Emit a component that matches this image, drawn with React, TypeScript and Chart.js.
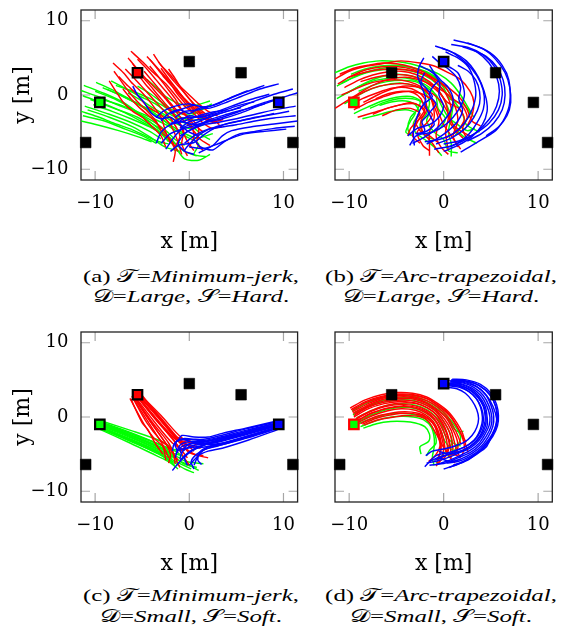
import React, { useEffect, useRef } from "react";
import { Chart, registerables } from "chart.js";
Chart.register(...registerables);

const X_TICKS = [-10, 0, 10];
const Y_TICKS = [-10, 0, 10];
const X_MIN = -11.5;
const X_MAX = 11.5;
const Y_MIN = -11.45;
const Y_MAX = 11.45;

// landmark squares
const LANDMARK_X = [-11, -9.5, -5.5, 0, 5.5, 9.5, 11];
const LANDMARK_Y = [-6.4, -1, 3, 4.5, 3, -1, -6.4];

// ---------- (a) minimum-jerk, large, hard ----------
const A_GREEN: number[][] = [
  [-11.3, -0.1, -9, -1.2, -6.5, -2.6, -4.5, -4.0, -3, -5.2, -2.2, -6.3],
  [-11.1, -1.5, -8.5, -2.6, -6, -3.8, -4.2, -4.9, -3, -5.9],
  [-11.3, -2.8, -9, -3.5, -6.8, -4.6, -4.8, -5.6, -3.5, -6.5],
  [-9.9, 1.7, -8, 0.6, -6, -0.8, -4, -2.2, -2.5, -3.6, -1.5, -5.0],
  [-11.2, 1.3, -9, 0.2, -7, -1.0, -5, -2.8, -3.5, -4.3, -2, -5.8, -1.2, -7.0],
  [-8.8, 0.8, -7, -0.2, -5, -1.5, -3, -2.6, -1.5, -3.8, 0, -4.5, 1.5, -4.0],
  [-10.5, -0.6, -8, -1.8, -5.5, -3.0, -3.5, -4.6, -2, -6.0, -0.5, -7.6, 0.8, -8.2],
  [-4.5, 2.1, -3.5, 1.0, -2.5, -0.2, -1, -1.2, 0.5, -1.4, 2.2, -0.8],
  [-7.8, 1.3, -6, 0.5, -4, -0.6, -2.5, -1.7, -1, -3.0, 0.5, -3.4, 1.8, -3.0],
  [-10.8, -2.0, -8.5, -3.0, -6, -4.3, -4, -5.8, -2.6, -7.0, -1, -7.6],
  [-9.5, -0.5, -7, -1.5, -4.5, -2.8, -2.5, -4.0, -0.5, -5.5, 1, -6.6, 0.5, -8.0, 1.8, -8.3],
  [-6.5, 0.3, -5, -0.8, -3.5, -2.0, -1.8, -3.2, 0, -4.0, 1.5, -5.5, 2.2, -6.0],
  [-10, 0.5, -8, -0.5, -6.2, -1.8, -4.5, -3.4, -3, -4.6],
  [-11.5, -3.5, -9.5, -4.1, -7.5, -4.8, -5.5, -5.6, -4, -6.3],
  [-11.5, 0.6, -9.5, -0.3, -7.5, -1.4, -5.5, -2.4, -3.8, -3.6, -2.5, -4.8, -1.5, -6.0, -0.5, -6.8],
  [-11.5, -2.2, -9.8, -2.9, -8, -3.8, -6.2, -4.6, -4.5, -5.6, -3.2, -6.3, -2.2, -6.6],
  [-8.3, 1.9, -6.8, 0.9, -5.2, -0.2, -3.6, -1.2, -2.3, -2.4, -1, -3.2, 0.5, -2.6, 1.5, -1.6],
  [-5.5, 1.2, -4.2, 0.2, -3, -0.9, -1.8, -2.0, -0.5, -2.6, 1, -2.2, 2.4, -1.2],
  [-10.2, -1.3, -8.2, -2.2, -6.2, -3.2, -4.2, -4.3, -2.8, -5.4, -1.5, -7.0, -0.5, -8.6, 1, -8.8, 2.2, -8.0],
  [-9.2, 1.0, -7.2, -0.1, -5.4, -1.3, -3.8, -2.6, -2.2, -3.9, -0.8, -5.0, 0.8, -5.8, 2.5, -5.2],
];
const A_RED: number[][] = [
  [-6.2, 5.9, -5, 4.5, -3.8, 3.0, -2.5, 1.5, -1.5, 0, -0.5, -1.5, 0.5, -2.5],
  [-8.1, 4.3, -7, 3.0, -6, 1.5, -5, 0.3, -4, -1.2, -3, -3.0, -2.5, -5.0, -2, -6.5],
  [-4.5, 5.2, -3.5, 3.8, -2.5, 2.4, -1.5, 1.0, -0.5, -0.5, 0.5, -1.8, 1.5, -2.5],
  [-3.3, 4.5, -2.5, 3.2, -1.6, 1.8, -0.6, 0.4, 0.3, -1.0, 1.3, -2.6, 2.5, -3.5],
  [-2.2, 3.5, -1.5, 2.2, -0.8, 0.8, 0, -0.5, 1, -1.8, 2.2, -3.0, 3.2, -4.0],
  [-4.2, 3.9, -3.3, 2.5, -2.4, 1.0, -1.5, -0.5, -0.8, -2.0, 0, -3.5, 0.5, -5.5, 0, -7.0],
  [-8.5, 1.9, -7.8, 0.5, -7, -1.0, -6, -2.2, -5, -3.0, -4, -4.2, -3, -5.5, -2.5, -7.0],
  [-7.05, 0.8, -6.2, -0.5, -5.3, -1.7, -4.3, -2.8, -3.3, -4.0, -2.3, -5.5, -1.5, -7.5, -1.7, -9.0],
  [-5.3, 2.5, -4.5, 1.2, -3.6, 0, -2.8, -1.2, -1.8, -2.5, -1, -4.0, -0.3, -6.0, 0.5, -7.5],
  [-6.8, 3.5, -5.8, 2.2, -4.8, 0.8, -3.8, -0.6, -2.8, -2.0, -1.8, -3.5, -1, -5.5, -1.5, -7.0],
  [-5.5, 4.8, -4.5, 3.5, -3.5, 2.0, -2.5, 0.5, -1.5, -1.0, -0.5, -2.5, 0.5, -4.0, 1.5, -5.0],
  [-3.8, 5.5, -3, 4.0, -2, 2.7, -1, 1.2, 0, 0, 1, -1.2, 2, -2.2, 3, -2.8],
  [-7.5, 2.5, -6.5, 1.2, -5.5, 0, -4.5, -1.5, -3.2, -2.5, -2, -4.0, -1.3, -6.0, -0.8, -8.0],
  [-2.8, 2.6, -2, 1.5, -1.3, 0.2, -0.5, -1.0, 0.5, -2.5, 1.5, -3.8, 2.5, -4.5, 3.5, -4.2],
  [-4.8, 3.2, -4, 2.0, -3.2, 0.8, -2.2, -0.8, -1.2, -2.2, 0, -3.0, 1, -4.5, 0.8, -6.5, 1.5, -7.5],
  [-6.5, 5.0, -5.6, 3.6, -4.6, 2.2, -3.6, 0.9, -2.6, -0.4, -1.7, -1.8, -0.8, -3.2, 0.2, -4.4, 1.2, -6.0, 2.2, -6.8],
  [-4.2, 4.8, -3.3, 3.4, -2.4, 2.0, -1.4, 0.6, -0.4, -0.8, 0.6, -2.2, 1.7, -3.3, 2.8, -3.8],
  [-8.0, 3.2, -7.2, 1.8, -6.4, 0.4, -5.5, -0.9, -4.6, -2.0, -3.6, -3.4, -2.8, -5.2, -2.0, -6.0, -1.2, -7.6],
  [-3.0, 3.6, -2.2, 2.2, -1.4, 0.9, -0.6, -0.4, 0.4, -1.6, 1.4, -2.8, 2.6, -3.6, 3.6, -3.3],
  [-6.0, 4.2, -5.2, 2.8, -4.3, 1.5, -3.4, 0.1, -2.4, -1.4, -1.4, -3.0, -0.6, -4.8, -0.8, -6.6, -0.2, -8.2],
];
const A_BLUE: number[][] = [
  [7.97, 1.3, 6, 0.4, 4, -0.6, 2.5, -1.4, 1, -2.0, -0.5, -2.2, -1.5, -3.0],
  [11, 0.8, 9, 0.1, 7, -0.8, 5, -1.8, 3, -2.6, 1.5, -3.2, 0, -3.6, -1, -4.5],
  [8.5, 0.1, 6.5, -0.6, 4.5, -1.5, 2.8, -2.3, 1.2, -3.0, 0, -2.8, -1, -3.5],
  [11.3, -1.5, 9, -2.0, 7, -2.6, 5, -3.2, 3, -3.7, 1.5, -4.0, 0, -4.8, -1, -5.5],
  [11.3, -2.8, 9, -3.1, 7, -3.5, 5, -4.0, 3.5, -4.3, 2, -4.6, 0.5, -5.5, -0.5, -6.5],
  [10.3, -4.6, 8, -4.9, 6, -5.2, 4.5, -5.8, 3, -6.6, 1.5, -7.2, 0, -7.0],
  [6.9, -0.9, 5, -1.5, 3.5, -2.2, 2, -2.8, 0.5, -3.0, -1, -3.2, -2, -4.0],
  [5.5, -1.7, 4, -2.2, 2.5, -2.8, 1, -3.6, -0.5, -4.3, -1.5, -5.5, -2.5, -7.3],
  [11.5, -3.5, 9, -3.9, 6.5, -4.3, 4.5, -4.8, 3.5, -5.5, 2.5, -6.8, 1, -7.8],
  [9.5, 1.5, 7.5, 0.8, 5.5, -0.2, 3.5, -1.2, 2, -1.8, 0.5, -1.4, -1, -2.0, -2, -2.5],
  [10, -0.3, 8, -1.0, 6, -1.9, 4, -2.8, 2.5, -3.4, 1, -4.0, -0.5, -4.5, -2, -5.2, -3, -6.5],
  [-6.0, 1.2, -5.5, 0, -4.8, -1.0, -4, -2.5, -3, -3.2, -2, -3.0, -1, -4.0, 0, -5.0, 1, -5.5],
  [4, -2.0, 2.5, -2.3, 1, -2.8, -0.5, -3.5, -2, -4.0, -3, -5.0, -3.5, -6.5],
  [9, -2.5, 7, -3.0, 5, -3.6, 3, -4.2, 1.5, -5.0, 0.5, -6.0, -0.5, -7.5, 0.5, -8.0],
  [2, -1.5, 1, -1.8, 0, -2.5, -1, -2.0, -2.2, -2.5, -3, -3.5],
  [11.5, 0.3, 9.5, -0.5, 7.5, -1.4, 5.5, -2.4, 3.5, -3.2, 2.0, -3.6, 0.5, -4.0, -0.8, -3.6, -2.0, -3.8],
  [8, -1.2, 6, -1.9, 4, -2.6, 2.2, -3.3, 0.8, -4.2, -0.5, -5.2, -1.2, -6.6, -0.5, -7.6],
  [11.2, -4.2, 9, -4.5, 7, -4.9, 5.2, -5.3, 3.8, -6.2, 2.5, -7.4, 1.2, -7.0, 0.5, -6.0],
  [6.2, 0.6, 4.5, -0.3, 3, -1.2, 1.5, -1.6, 0, -1.2, -1.5, -1.5, -2.8, -2.2, -3.5, -3.0],
  [10.6, -2.2, 8.5, -2.7, 6.5, -3.2, 4.5, -3.7, 2.8, -4.4, 1.5, -5.4, 0.5, -6.4, -1.2, -6.8, -2.0, -7.6],
];

// ---------- (b) arc-trapezoidal, large, hard ----------
const B_GREEN: number[][] = [
  [-11.3, -0.5, -9.5, 0.8, -8, 1.8, -6.5, 2.5, -5, 2.8, -3.5, 2.6, -2, 2.0, -0.8, 1.0, 0, -0.5, 0.6, -2.2, 1, -4.0, 2, -5.5, 3.5, -6.5],
  [-11.5, 3.0, -10, 3.8, -8.5, 4.3, -6.8, 4.6, -5, 4.5, -3.5, 4.2, -2, 3.6, -0.5, 2.8, 0.8, 1.6, 1.8, 0, 2.5, -1.5, 3.2, -3.0],
  [-9.5, -2.5, -8, -1.6, -6.5, -0.8, -5, -0.3, -3.5, -0.2, -2.5, -0.8, -2.8, -2.0, -3.5, -3.0, -3.8, -4.5, -3.5, -5.5],
  [-10.5, -1.2, -9, 0, -7.5, 0.9, -6, 1.4, -4.5, 1.6, -3, 1.2, -2, 0.4, -1.5, -1.0, -1.8, -2.5, -2.5, -4.0, -2, -5.5, -1, -6.0],
  [-8.6, -3.2, -7, -2.7, -5.5, -2.2, -4, -2.0, -3, -2.4, -3.5, -3.5, -4, -5.0, -3.2, -5.5],
  [-10.8, 1.6, -9.2, 2.6, -7.6, 3.3, -6, 3.7, -4.5, 3.9, -3, 3.6, -1.6, 3.0, -0.5, 2.0, 0.5, 0.5, 1.0, -1.0, 0.8, -3.0, 0.5, -5.0, 0.8, -6.5, 0.8, -8.3],
  [-9, 0.5, -7.5, 1.3, -6, 1.8, -4.5, 2.0, -3, 1.8, -1.8, 1.0, -0.8, 0, -0.2, -1.5, 0.5, -3.0, 1.5, -4.0, 2.5, -4.8, 3.3, -4.5],
  [-7.8, -1.8, -6.3, -1.0, -4.8, -0.5, -3.3, -0.5, -2.2, -1.0, -1.5, -2.2, -1.8, -3.5, -1, -5.0, 0, -6.0, 0.5, -7.5, 1.5, -7.8],
  [-11.3, 1.2, -9.8, 2.2, -8.2, 3.0, -6.5, 3.4, -4.8, 3.5, -3.3, 3.2, -2, 2.6, -0.8, 1.6, 0.2, 0.3, 1.2, -1.0, 2.0, -2.5, 2.4, -4.0, 3.8, -5.0],
  [-10.3, 0.2, -8.7, 1.3, -7.1, 2.0, -5.5, 2.3, -4, 2.3, -2.6, 1.8, -1.5, 1.0, -0.8, -0.2, -0.6, -1.8, 0.2, -3.2, -0.5, -4.6, -1.8, -5.2],
  [-9.8, 2.8, -8.3, 3.5, -6.7, 3.9, -5, 4.0, -3.4, 3.7, -2, 3.1, -0.8, 2.2, 0, 1.0, 0.6, -0.5, 2.0, -1.2, 2.8, -2.5, 2.0, -4.0, 1.2, -5.5],
  [-6.8, -1.4, -5.4, -0.9, -4, -0.8, -3, -1.3, -2.6, -2.4, -3.2, -3.8, -3.0, -5.0, -2.0, -6.0, -1.0, -7.0, -0.2, -8.2],
];
const B_RED: number[][] = [
  [-11.6, 2.1, -10, 3.2, -8.1, 3.9, -6, 4.3, -4.5, 4.6, -2.5, 4.3, -1, 3.9, 0.5, 3.0, 1.76, 2.1, 2.8, 0.5, 3.2, -1.0, 3, -2.8, 2.5, -4.15],
  [-11.5, -1.8, -10, -0.6, -8.5, 0.6, -7, 1.6, -5.5, 2.2, -4, 2.4, -2.5, 2.0, -1, 1.2, 0.5, 0, 1.2, -1.5, 1.5, -3.5, 1, -5.5, 1.5, -7],
  [-10.5, 1.0, -9, 2.0, -7.5, 2.7, -6, 3.1, -4.5, 3.2, -3, 2.8, -1.5, 1.8, -0.5, 0.5, 0.2, -1.0, 0.5, -3.0, 0.2, -5.0, 0.5, -7.5],
  [-9.1, -3.0, -7.5, -2.4, -6, -1.8, -4.5, -1.3, -3.5, -1.0, -2.5, -1.5, -2, -2.5, -2.8, -3.5, -3.5, -4.5, -3.8, -5.5],
  [-10.8, 0.0, -9, 1.0, -7.5, 1.7, -6, 2.0, -4.5, 2.0, -3, 1.5, -1.8, 0.5, -1.2, -1.0, -1, -3.0, -1.5, -5.0, -1.5, -7.0, -1.5, -8.2],
  [-9.5, -2.0, -8, -1.0, -6.5, -0.3, -5, 0.3, -3.5, 0.5, -2, 0, -1, -1.0, -0.5, -2.5, 0, -4.0, 0.8, -5.5, 1.8, -7.3],
  [-11.0, 2.8, -9.5, 3.6, -8, 4.0, -6.5, 4.3, -5, 4.2, -3.5, 3.8, -2, 3.0, -0.8, 2.0, 0.5, 1.0, 1.8, -0.5, 2.5, -2.0, 3.0, -3.5, 3.9, -4.15],
  [-8.5, -1.0, -7, 0, -5.5, 0.8, -4, 1.2, -2.5, 1.0, -1.2, 0.2, -0.2, -1.0, 0.5, -2.5, 1, -4.0, 2, -5.0, 2.8, -5.5],
  [-7.5, -2.6, -6, -1.8, -4.5, -1.3, -3, -1.2, -2, -2.0, -2.5, -3.0, -3, -4.2, -3.3, -5.5, -2.5, -6.5],
  [-10.2, 2.3, -8.5, 3.0, -7, 3.4, -5.5, 3.5, -4, 3.4, -2.5, 3.0, -1, 2.2, 0.2, 1.0, 1, -0.5, 2.0, -1.5, 2.5, -3.0, 2, -4.5, 2.5, -6],
  [-9.8, -0.5, -8.3, 0.5, -6.8, 1.2, -5.2, 1.5, -3.8, 1.5, -2.5, 1.0, -1.5, 0, -1.0, -1.5, -0.5, -3.5, -0.8, -5.5, -0.3, -7.0, 0.5, -8.0],
  [-6.5, -2.8, -5, -2.0, -3.5, -1.8, -2.5, -2.5, -3, -3.5, -2.5, -4.8, -1.5, -5.5, -0.5, -6.5],
  [-11.2, 1.5, -9.7, 2.6, -8.2, 3.4, -6.5, 3.8, -4.8, 3.8, -3.2, 3.4, -1.8, 2.6, -0.6, 1.5, 0.3, 0, 0.8, -1.8, 0.6, -3.5, 1.4, -5.0, 2.2, -6.0],
  [-10, -1.5, -8.6, -0.5, -7, 0.3, -5.5, 0.9, -4, 1.0, -2.8, 0.5, -2, -0.5, -1.8, -2.0, -2.4, -3.5, -2.2, -5.0, -1.2, -6.5, -0.5, -7.8],
  [-8.8, 1.8, -7.2, 2.4, -5.6, 2.7, -4, 2.7, -2.6, 2.2, -1.4, 1.3, -0.4, 0.2, 0.4, -1.0, 1.6, -1.8, 2.2, -3.2, 1.5, -4.8, 0.2, -5.8],
  [-7.2, -0.5, -5.8, 0.2, -4.4, 0.5, -3.2, 0.3, -2.4, -0.5, -2.0, -1.7, -1.2, -2.6, -1.8, -3.8, -2.8, -5.0, -2.2, -6.8, -1.5, -7.5],
];
const B_BLUE: number[][] = [
  [1.05, 7.4, 3, 6.8, 4.9, 5.7, 6.2, 4.0, 6.9, 2.0, 7.0, -1.0, 6.5, -3.0, 5.5, -4.8, 3.5, -6.4, 1.8, -7.7],
  [-0.9, 6.6, 0.5, 6.0, 1.76, 5.0, 3, 3.5, 3.9, 1.7, 4.3, -0.2, 4.2, -1.9, 3.5, -3.8, 2.5, -5.5, 1, -6.8, -1, -7.3],
  [-2.1, 5.0, -2.6, 3.8, -2.75, 2.55, -2.3, 1.0, -1.9, -0.6, -2.5, -2.0, -2.9, -3.3, -3.2, -5.0, -3.1, -6.8],
  [2.0, 6.5, 3.5, 5.8, 4.8, 4.3, 5.6, 2.5, 5.9, 0.5, 5.6, -1.5, 4.8, -3.3, 3.5, -5.0, 2, -6.2, 0.5, -7.0],
  [0.2, 5.8, 1.5, 5.0, 2.6, 3.8, 3.2, 2.0, 3.4, 0, 3, -2.0, 2.2, -3.8, 1, -5.2, -0.5, -6.0, -2, -6.3],
  [-1.5, 4.0, -1.0, 3.0, -0.3, 2.0, 0.5, 1.0, 1.0, -0.5, 0.8, -2.0, 0, -3.5, -1.0, -4.8, -2.2, -5.8, -3.3, -6.5],
  [0.6, 3.8, 1.5, 3.0, 2.0, 1.5, 2.2, 0, 1.8, -1.5, 1.0, -3.0, 0, -4.2, -1.2, -5.0, -2.5, -5.3],
  [3.2, 6.0, 4.5, 5.2, 5.6, 3.8, 6.3, 2.0, 6.5, 0, 6.2, -2.0, 5.3, -3.8, 4, -5.2, 2.5, -6.2],
  [-0.5, 2.0, -1.2, 1.0, -1.5, 0, -0.8, -1.2, -1.5, -2.5, -1.0, -4.0, -2, -5.0, -3, -5.2],
  [1.5, 4.0, 2.6, 3.2, 3.4, 2.0, 3.8, 0.5, 3.8, -1.2, 3.2, -3.0, 2.2, -4.6, 0.8, -5.8, -0.8, -6.6],
  [-2.6, 4.0, -1.8, 3.5, -1.0, 2.8, -0.4, 1.5, -0.5, 0, 0, -1.5, -0.5, -3.0, -1.5, -4.0, -2.8, -4.5, -3.8, -5.5],
  [2.5, 7.0, 4.2, 6.2, 5.5, 4.8, 6.5, 3.0, 7.0, 1.0, 7.1, -1.0, 6.7, -2.8, 5.8, -4.3, 4.5, -5.5],
  [-0.2, 6.3, 1.2, 5.6, 2.4, 4.6, 3.3, 3.2, 4.0, 1.5, 4.5, -0.5, 4.6, -2.2, 4.1, -4.0, 3, -5.6, 1.5, -6.8, 0, -7.6],
  [0.8, 6.8, 2.6, 6.4, 4.2, 5.4, 5.4, 3.8, 6.0, 2.0, 6.2, 0, 5.8, -2.0, 4.8, -3.8, 3.3, -5.2, 1.6, -6.2, 0, -6.6],
  [-1.2, 5.2, -0.5, 4.4, 0.4, 3.6, 1.3, 2.5, 1.8, 1.0, 1.6, -0.5, 2.0, -2.0, 1.5, -3.5, 0.5, -4.8, -0.6, -5.8, -1.8, -6.6],
  [-2.0, 3.0, -2.4, 1.8, -1.8, 0.8, -1.2, -0.2, -2.0, -1.2, -1.6, -2.5, -2.3, -3.6, -2.0, -4.8, -3.0, -5.6, -3.6, -6.8],
];

// ---------- (c) minimum-jerk, small, soft ----------
const C_GREEN: number[][] = [
  [-9.5, -0.6, -6, -2.2, -3, -3.8, -2.2, -4.5],
  [-9.6, -0.9, -6, -2.6, -3, -4.2, -2, -5.0],
  [-9.4, -1.2, -6, -2.9, -3, -4.6, -1.8, -5.6],
  [-9.7, -1.4, -6.2, -3.3, -3.2, -5.0, -1.8, -6.2],
  [-9.3, -0.8, -5.8, -2.4, -2.8, -3.9, -1.5, -4.6, -0.5, -5.5],
  [-9.5, -1.0, -6, -2.8, -3, -4.5, -1.2, -5.8, 0, -6.5, 1, -7.2],
  [-9.6, -1.6, -6.3, -3.5, -3.5, -5.2, -2.2, -6.0, -1.2, -7.0],
  [-9.4, -0.5, -6, -1.9, -3.5, -3.0, -2.5, -3.6, -1.8, -4.2],
  [-9.5, -1.3, -6.1, -3.1, -3.3, -4.8, -2.0, -5.8, -0.5, -7.0, 0.5, -7.5],
  [-9.6, -0.7, -6.1, -2.3, -3.1, -3.7, -2.0, -4.3, -1.0, -4.5],
  [-9.5, -1.1, -5.9, -2.7, -3.0, -4.3, -1.5, -5.2, -0.3, -6.0, 1.5, -6.3],
  [-9.3, -1.5, -6.0, -3.2, -3.0, -4.9, -1.6, -5.9, 0.2, -7.0],
  [-9.7, -1.2, -6.4, -2.9, -3.6, -4.4, -2.7, -5.0],
  [-9.5, -0.8, -6.0, -2.5, -3.1, -4.0, -1.9, -4.8, -0.8, -5.2],
  [-9.6, -1.5, -6.2, -3.2, -3.4, -4.9, -2.3, -5.6, -1.5, -6.6],
  [-9.4, -1.0, -5.9, -2.6, -2.9, -4.2, -1.7, -5.3, -0.6, -6.3, 0.8, -6.8],
];
const C_RED: number[][] = [
  [-5.8, 2.8, -3.8, -0.5, -1.8, -3.5, -0.5, -4.5],
  [-5.5, 3.2, -3.3, 0, -1.2, -3.0, 0.3, -4.0],
  [-5.2, 3.0, -3.0, 0.2, -0.8, -2.8, 0.8, -3.6],
  [-6.0, 2.6, -4.3, -0.8, -2.8, -3.8, -2.2, -5.5],
  [-6.3, 2.5, -4.8, -1.0, -3.8, -2.8, -2.8, -4.0, -2.5, -5.8],
  [-5.6, 3.0, -3.6, -0.3, -1.6, -3.2, -0.8, -5.0, 0, -6.5],
  [-5.3, 3.1, -3.1, 0, -1.0, -3.2, 0, -4.8, 1.5, -5.2],
  [-5.9, 2.9, -4.0, -0.6, -2.2, -3.5, -1.5, -5.5, -1.0, -6.8],
  [-5.4, 2.7, -3.5, -0.2, -1.5, -3.0, -0.2, -3.8, 1.2, -4.2],
  [-6.1, 2.8, -4.5, -0.8, -3.0, -3.2, -1.8, -4.5, -1.5, -6.3],
  [-5.7, 3.3, -3.4, 0.2, -1.3, -2.7, 0, -3.2, 0.8, -3.8],
  [-5.0, 2.9, -3.0, -0.3, -1.0, -3.5, 0.5, -5.0, 2, -5.5],
  [-6.2, 2.4, -5, -0.8, -4.4, -1.7, -3.6, -3.6, -2.8, -5.0],
  [-5.5, 2.9, -3.6, -0.2, -1.7, -3.1, -1.0, -4.2, -0.2, -5.5],
  [-5.8, 3.1, -3.7, -0.1, -1.6, -2.8, -0.4, -3.6, 0.5, -4.6],
  [-5.9, 2.6, -4.1, -0.7, -2.4, -3.7, -1.8, -4.8, -1.2, -5.8],
  [-5.3, 2.8, -3.3, -0.1, -1.3, -2.9, 0.2, -3.5, 1.8, -3.6],
  [-6.0, 3.0, -4.2, -0.5, -2.6, -3.4, -2.0, -5.0, -2.2, -6.2],
];
const C_BLUE: number[][] = [
  [9.5, -0.6, 6, -1.6, 3, -2.6, 1.5, -3.0, 0, -3.0, -1.3, -3.2, -1.5, -4.0],
  [9.6, -0.9, 6, -2.0, 3, -3.0, 1.5, -3.4, 0, -3.6, -1, -4.2, -0.8, -5.0],
  [9.4, -1.2, 6, -2.4, 3, -3.4, 1.5, -3.8, 0.3, -4.5, -0.5, -5.5, -0.2, -6.5],
  [9.7, -1.4, 6.2, -2.8, 3.2, -3.8, 1.8, -4.3, 0.8, -5.0, 0.2, -6.0, 0.5, -7.0],
  [9.3, -0.8, 6, -1.8, 3, -2.8, 1.2, -3.2, -0.5, -2.9, -1.5, -3.5, -1.2, -4.8],
  [9.5, -1.0, 6, -2.2, 3, -3.2, 1.5, -3.8, 0, -4.8, -1, -6.0, -1.8, -7.2],
  [9.6, -1.6, 6.3, -3.1, 3.5, -4.2, 2.0, -4.6, 1.0, -5.2, 0.5, -6.5],
  [9.4, -0.5, 6, -1.5, 3.5, -2.2, 2, -2.7, 0.5, -2.7, -0.8, -2.5, -1.2, -3.3],
  [9.5, -1.3, 6.1, -2.6, 3.3, -3.6, 1.8, -4.0, 0.5, -4.3, -0.3, -5.0, -1, -5.8],
  [9.6, -0.7, 6.1, -1.9, 3.1, -2.9, 1.5, -3.3, 0, -3.3, -1, -3.8, -1.4, -5.0],
  [9.5, -1.1, 5.9, -2.3, 3.0, -3.3, 1.2, -3.9, -0.2, -4.2, -1.2, -4.5, -1.5, -5.5],
  [9.3, -1.5, 6.0, -2.8, 3.0, -3.9, 1.6, -4.4, 0.5, -5.8, 0, -6.5],
  [9.7, -1.2, 6.4, -2.5, 3.6, -3.5, 2.0, -3.7, 0.8, -3.5, -0.2, -3.8, -0.8, -4.5],
  [9.5, -0.9, 6.0, -2.1, 3.1, -3.1, 1.6, -3.6, 0.2, -3.9, -0.7, -4.6, -1.0, -5.6],
  [9.4, -1.4, 6.1, -2.7, 3.2, -3.7, 1.9, -4.1, 1.2, -4.6, 0.9, -5.8, 1.3, -6.4],
  [9.6, -1.0, 6.2, -2.2, 3.4, -3.1, 1.7, -3.5, 0.4, -3.4, -0.8, -3.0, -1.6, -3.6, -1.8, -4.6],
];

// ---------- (d) arc-trapezoidal, small, soft ----------
const D_GREEN: number[][] = [
  [-9.2, -1.0, -7.8, -0.3, -6.2, 0.3, -4.8, 0.5, -3.5, 0.4, -2.2, 0, -1.5, -0.8, -1.0, -2.0, -0.8, -3.5, -1.5, -4.5, -1.8, -5.2],
  [-8.8, -1.3, -7.4, -0.6, -6.0, -0.1, -4.5, 0.1, -3.2, 0, -2.1, -0.4, -1.3, -1.4, -1.0, -2.8, -1.0, -4.0, -1.2, -5.5, -1.0, -6.5],
  [-9.5, 0.5, -8, 1.5, -6.3, 2.3, -4.6, 2.6, -3, 2.5, -1.7, 1.9, -0.6, 1.0, 0.4, -0.2, 1.1, -1.6, 1.6, -2.0, 2.1, -1.9],
  [-9.0, -0.6, -7.6, 0.3, -6, 1.0, -4.4, 1.3, -2.9, 1.1, -1.8, 0.5, -0.9, -0.5, -0.3, -1.8, 0.1, -3.2, 0.8, -4.3, 1.3, -5.0],
  [-9.7, 0.8, -8.1, 1.9, -6.5, 2.6, -4.7, 2.9, -3.2, 2.8, -1.8, 2.2, -0.6, 1.3, 0.4, 0.1, 1.2, -1.2, 1.8, -2.8, 1.2, -4.4, 0.4, -5.5],
  [-8.5, -1.5, -7.1, -0.9, -5.6, -0.6, -4.2, -0.6, -3, -0.8, -2, -1.3, -1.5, -2.3, -1.6, -3.3, -2.5, -4.0, -2.4, -5.0],
  [-9.3, -0.2, -7.8, 0.8, -6.2, 1.5, -4.5, 1.8, -3.0, 1.6, -1.8, 1.0, -0.9, 0.1, -0.2, -1.1, 0.2, -2.5, 1.0, -3.5, 1.8, -3.9],
  [-9.6, 0.3, -8.1, 1.3, -6.4, 2.0, -4.7, 2.3, -3.1, 2.2, -1.8, 1.6, -0.8, 0.7, 0.0, -0.6, 0.6, -2.0, 0.9, -3.5, 0.1, -4.8, -0.8, -6.2],
];
const D_RED: number[][] = [
  [-9.65, 0.7, -8, 1.8, -6.3, 2.6, -4.5, 2.9, -3.1, 2.7, -1.8, 2.2, -0.7, 1.35, 0.3, 0.2, 1.07, -1.35, 1.6, -2.8, 1.8, -3.6],
  [-9.5, 0.2, -8, 1.3, -6.3, 2.0, -4.5, 2.3, -3, 2.1, -1.7, 1.5, -0.7, 0.6, 0, -0.6, 0.6, -2.0, 0.9, -3.5, 1.0, -4.5],
  [-9.3, -0.3, -7.8, 0.7, -6.2, 1.4, -4.5, 1.7, -3, 1.5, -1.8, 0.9, -0.9, 0, -0.3, -1.2, 0.2, -2.6, 0.4, -4.0, 0.3, -5.0],
  [-9.0, -0.7, -7.5, 0.2, -6, 0.8, -4.5, 1.1, -3, 0.9, -1.9, 0.3, -1.1, -0.6, -0.6, -1.8, -0.3, -3.2, -0.3, -4.5, -0.7, -5.8],
  [-8.4, -1.1, -7, -0.4, -5.25, 0, -4, 0.2, -2.4, 0, -1.6, -0.6, -1.0, -1.8, -0.5, -3.0, -0.3, -4.05, -0.5, -5.5, -0.7, -6.3],
  [-9.8, 1.0, -8.2, 2.1, -6.5, 2.8, -4.8, 3.1, -3.2, 3.0, -1.8, 2.5, -0.6, 1.6, 0.5, 0.5, 1.3, -1.0, 1.9, -2.5, 2.2, -4.0, 2.0, -5.0],
  [-9.4, 0.4, -7.9, 1.5, -6.2, 2.2, -4.6, 2.5, -3.1, 2.4, -1.8, 1.8, -0.8, 0.9, 0.1, -0.3, 0.8, -1.8, 1.1, -3.2, 1.4, -4.6, 1.8, -5.5],
  [-9.2, -0.1, -7.6, 0.9, -6, 1.6, -4.4, 1.9, -2.9, 1.8, -1.7, 1.2, -0.8, 0.3, -0.2, -0.9, 0.3, -2.2, 0.6, -3.8, 0.2, -5.3, -0.5, -6.0],
  [-8.8, -0.9, -7.3, 0, -5.6, 0.5, -4.1, 0.7, -2.7, 0.5, -1.7, -0.1, -1.0, -1.1, -0.6, -2.5, -0.2, -3.7, 0.5, -4.8, 1.5, -5.2],
  [-9.6, 0.5, -8, 1.6, -6.4, 2.4, -4.7, 2.7, -3.2, 2.6, -1.9, 2.0, -0.8, 1.1, 0.2, 0, 0.9, -1.5, 1.4, -3.0, 1.5, -4.2, 1.0, -5.2],
  [-9.0, -0.5, -7.7, 0.5, -6.1, 1.1, -4.5, 1.4, -3, 1.2, -1.9, 0.6, -1.0, -0.3, -0.4, -1.5, 0, -3.0, 0.2, -4.5, 0.7, -5.5, 1.2, -6.2],
  [-9.7, 0.9, -8.1, 2.0, -6.4, 2.7, -4.7, 3.0, -3.1, 2.9, -1.7, 2.4, -0.5, 1.4, 0.6, 0.2, 1.4, -1.3, 2.0, -2.6, 2.4, -3.4],
  [-9.5, 0.0, -8.0, 1.1, -6.3, 1.8, -4.6, 2.1, -3.0, 1.9, -1.8, 1.3, -0.8, 0.4, -0.1, -0.8, 0.4, -2.3, 0.7, -3.9, 0.8, -5.5],
  [-9.1, -0.4, -7.6, 0.5, -6.0, 1.2, -4.4, 1.5, -2.9, 1.3, -1.8, 0.7, -1.0, -0.2, -0.5, -1.4, -0.2, -2.8, 0, -4.2, -0.2, -5.6, -0.8, -6.6],
  [-9.9, 1.2, -8.3, 2.3, -6.6, 3.0, -4.9, 3.3, -3.3, 3.2, -1.8, 2.7, -0.6, 1.8, 0.5, 0.7, 1.4, -0.8, 2.0, -2.2, 2.3, -3.6, 2.6, -4.8],
  [-8.6, -1.0, -7.2, -0.2, -5.5, 0.3, -4.0, 0.5, -2.6, 0.3, -1.6, -0.3, -0.9, -1.3, -0.5, -2.6, -0.4, -4.0, -0.9, -5.2, -1.6, -6.0],
];
const D_BLUE: number[][] = [
  [0.6, 4.9, 2, 4.7, 3.5, 4.05, 4.6, 2.8, 5.25, 1.35, 5.6, -0.2, 5.5, -1.35, 5.0, -2.8, 4.5, -4.05, 3.5, -5.0, 2.5, -5.84, 1.2, -6.5, 0, -7.0],
  [0.5, 4.3, 1.5, 4.2, 2.5, 3.6, 3.4, 2.6, 3.9, 1.35, 4.1, 0, 4.05, -0.9, 3.7, -2.2, 3.2, -3.15, 2.3, -4.0, 1.4, -4.5, 0.2, -5.2, -1, -5.84],
  [0.6, 4.6, 1.8, 4.5, 3.0, 3.9, 4.0, 2.8, 4.6, 1.4, 4.9, 0, 4.8, -1.2, 4.3, -2.5, 3.7, -3.6, 2.8, -4.5, 1.7, -5.2, 0.5, -5.9, -0.8, -6.4],
  [0.8, 5.0, 2.2, 4.9, 3.7, 4.3, 4.9, 3.0, 5.5, 1.5, 5.7, 0, 5.5, -1.5, 4.9, -3.0, 4.1, -4.3, 3.0, -5.4, 1.8, -6.2, 0.6, -6.8],
  [0.5, 4.0, 1.4, 3.8, 2.3, 3.2, 3.0, 2.2, 3.5, 1.0, 3.7, -0.2, 3.5, -1.4, 3.0, -2.5, 2.2, -3.4, 1.2, -3.9, 0, -4.3, -1.2, -4.6, -1.9, -5.2],
  [0.7, 4.7, 2.0, 4.6, 3.2, 4.0, 4.2, 2.9, 4.8, 1.5, 5.1, 0, 5.0, -1.3, 4.5, -2.6, 3.8, -3.8, 2.8, -4.8, 1.5, -5.5, 0.2, -6.2, -1.5, -6.5],
  [0.5, 4.4, 1.6, 4.3, 2.7, 3.7, 3.6, 2.7, 4.2, 1.4, 4.4, 0, 4.3, -1.1, 3.9, -2.4, 3.2, -3.5, 2.3, -4.3, 1.0, -4.9, -0.3, -5.3, -1.5, -6.0],
  [0.9, 5.1, 2.4, 5.0, 3.9, 4.4, 5.0, 3.2, 5.6, 1.7, 5.8, 0.2, 5.7, -1.2, 5.2, -2.6, 4.4, -3.9, 3.4, -5.0, 2.2, -5.9, 1.0, -6.5],
  [0.6, 4.2, 1.7, 4.0, 2.7, 3.4, 3.5, 2.4, 4.0, 1.2, 4.2, -0.1, 4.1, -1.3, 3.6, -2.6, 2.8, -3.6, 1.7, -4.3, 0.5, -4.8, -0.8, -5.2, -2, -6.7],
  [0.7, 4.8, 2.1, 4.8, 3.4, 4.2, 4.4, 3.1, 5.0, 1.6, 5.3, 0.1, 5.2, -1.3, 4.7, -2.7, 4.0, -3.9, 3.0, -4.9, 1.9, -5.6, 0.8, -6.0, -0.5, -5.5],
  [0.5, 4.5, 1.8, 4.4, 2.9, 3.8, 3.8, 2.7, 4.4, 1.4, 4.6, 0, 4.6, -1.2, 4.1, -2.5, 3.4, -3.6, 2.5, -4.4, 1.5, -4.8, 0.5, -5.0, -0.5, -4.6],
  [0.6, 4.35, 1.7, 4.25, 2.8, 3.65, 3.7, 2.6, 4.3, 1.3, 4.5, -0.1, 4.4, -1.3, 3.9, -2.6, 3.1, -3.7, 2.0, -4.6, 0.8, -5.3, -0.6, -5.9, -1.8, -6.2],
  [0.8, 4.95, 2.3, 4.85, 3.8, 4.2, 4.95, 2.9, 5.5, 1.4, 5.65, -0.1, 5.4, -1.6, 4.8, -3.0, 3.9, -4.3, 2.8, -5.3, 1.5, -6.0, 0.3, -6.2],
];

// caption texts
const CAP_LETTERS = ["(a)", "(b)", "(c)", "(d)"];
const CAP_TRAJ = ["Minimum-jerk", "Arc-trapezoidal", "Minimum-jerk", "Arc-trapezoidal"];
const CAP_DIST = ["Large", "Large", "Small", "Small"];
const CAP_STIFF = ["Hard", "Hard", "Soft", "Soft"];

const GREEN = "#00ff00";
const RED = "#ff0000";
const BLUE = "#0000ff";
const FONT = "'DejaVu Serif', serif";

type PanelCfg = {
  left: number;
  top: number;
  width: number;
  padRight: number;
  yAxisWidth: number;
  showY: boolean;
  arc: boolean;
  tension: number;
  green: number[][];
  red: number[][];
  blue: number[][];
};

const PANELS: PanelCfg[] = [
  { left: 0, top: 0, width: 302, padRight: 4.4, yAxisWidth: 81, showY: true, arc: false, tension: 0.25, green: A_GREEN, red: A_RED, blue: A_BLUE },
  { left: 305, top: 0, width: 254, padRight: 6.7, yAxisWidth: 30, showY: false, arc: true, tension: 0.25, green: B_GREEN, red: B_RED, blue: B_BLUE },
  { left: 0, top: 321.7, width: 302, padRight: 4.4, yAxisWidth: 81, showY: true, arc: false, tension: 0.3, green: C_GREEN, red: C_RED, blue: C_BLUE },
  { left: 305, top: 321.7, width: 254, padRight: 6.7, yAxisWidth: 30, showY: false, arc: true, tension: 0.3, green: D_GREEN, red: D_RED, blue: D_BLUE },
];

const CAPTION_POS = [
  { cx: 191, top: 265.5 },
  { cx: 441, top: 265.5 },
  { cx: 191, top: 585 },
  { cx: 441, top: 585 },
];

const toPoints = (flat: number[]) => {
  const pts: { x: number; y: number }[] = [];
  for (let i = 0; i + 1 < flat.length; i += 2) pts.push({ x: flat[i], y: flat[i + 1] });
  return pts;
};

const fmtTick = (v: number) => (v < 0 ? "\u2212" + Math.abs(v) : String(v));

const framePlugin = {
  id: "frameTicks",
  beforeDatasetsDraw(chart: any) {
    const { ctx, chartArea: a, scales } = chart;
    const xs = scales.x;
    const ys = scales.y;
    const L = 9;
    ctx.save();
    ctx.strokeStyle = "#a6a6a6";
    ctx.lineWidth = 1.2;
    ctx.beginPath();
    X_TICKS.forEach((v) => {
      const px = xs.getPixelForValue(v);
      ctx.moveTo(px, a.top);
      ctx.lineTo(px, a.top + L);
      ctx.moveTo(px, a.bottom);
      ctx.lineTo(px, a.bottom - L);
    });
    Y_TICKS.forEach((v) => {
      const py = ys.getPixelForValue(v);
      ctx.moveTo(a.left, py);
      ctx.lineTo(a.left + L, py);
      ctx.moveTo(a.right, py);
      ctx.lineTo(a.right - L, py);
    });
    ctx.stroke();
    ctx.strokeStyle = "#222";
    ctx.lineWidth = 1.3;
    ctx.strokeRect(a.left, a.top, a.right - a.left, a.bottom - a.top);
    ctx.restore();
  },
};

function Panel({ cfg }: { cfg: PanelCfg }) {
  const ref = useRef<HTMLCanvasElement | null>(null);
  useEffect(() => {
    if (!ref.current) return;
    const n = LANDMARK_X.length;
    const fill: string[] = [];
    const border: string[] = [];
    const radius: number[] = [];
    const bw: number[] = [];
    for (let i = 0; i < n; i++) {
      let f = "#000", b = "#000", r = 7.5, w = 0.6;
      if (!cfg.arc) {
        if (i === 1) { f = GREEN; r = 6.7; w = 2.2; }
        if (i === 2) { f = RED; r = 6.7; w = 2.2; }
        if (i === 5) { f = BLUE; r = 6.7; w = 2.2; }
      } else {
        if (i === 1) { f = GREEN; b = RED; r = 6.7; w = 2.2; }
        if (i === 3) { f = BLUE; r = 6.7; w = 2.2; }
      }
      fill.push(f); border.push(b); radius.push(r); bw.push(w);
    }
    const markers = {
      data: LANDMARK_X.map((x, i) => ({ x, y: LANDMARK_Y[i] })),
      showLine: false,
      pointStyle: "rect",
      pointRadius: radius,
      pointBackgroundColor: fill,
      pointBorderColor: border,
      pointBorderWidth: bw,
      clip: false,
    };
    const line = (flat: number[], color: string) => ({
      data: toPoints(flat),
      showLine: true,
      borderColor: color,
      borderWidth: 1.45,
      pointRadius: 0,
      tension: cfg.tension,
      fill: false,
    });
    const datasets: any[] = [markers];
    cfg.blue.forEach((t) => datasets.push(line(t, BLUE)));
    cfg.red.forEach((t) => datasets.push(line(t, RED)));
    cfg.green.forEach((t) => datasets.push(line(t, GREEN)));

    const chart = new Chart(ref.current, {
      type: "scatter",
      data: { datasets },
      plugins: [framePlugin],
      options: {
        animation: false,
        responsive: true,
        maintainAspectRatio: false,
        events: [],
        layout: { autoPadding: false, padding: { top: 10, right: cfg.padRight, left: 0, bottom: 0 } },
        plugins: { legend: { display: false }, tooltip: { enabled: false } },
        scales: {
          x: {
            type: "linear",
            min: X_MIN,
            max: X_MAX,
            afterBuildTicks: (s: any) => { s.ticks = X_TICKS.map((v) => ({ value: v })); },
            afterFit: (s: any) => {
              s.height = 82;
              s.paddingLeft = 0;
              s.paddingRight = 0;
              s.paddingTop = 0;
              s.paddingBottom = 0;
            },
            grid: { display: false, drawTicks: false },
            border: { display: false },
            ticks: {
              padding: 12.5,
              color: "#000",
              autoSkip: false,
              maxRotation: 0,
              font: { family: FONT, size: 18 },
              callback: (v: any) => fmtTick(Number(v)),
            },
            title: {
              display: true,
              text: "x [m]",
              color: "#000",
              font: { family: FONT, size: 22 },
              padding: { top: 0, bottom: 6.5 },
            },
          },
          y: {
            type: "linear",
            min: Y_MIN,
            max: Y_MAX,
            afterBuildTicks: (s: any) => { s.ticks = Y_TICKS.map((v) => ({ value: v })); },
            afterFit: (s: any) => {
              s.width = cfg.yAxisWidth;
              s.paddingTop = 0;
              s.paddingBottom = 0;
              s.paddingLeft = 0;
              s.paddingRight = 0;
            },
            grid: { display: false, drawTicks: false },
            border: { display: false },
            ticks: {
              display: cfg.showY,
              padding: 12.5,
              color: "#000",
              autoSkip: false,
              font: { family: FONT, size: 18 },
              callback: (v: any) => fmtTick(Number(v)),
            },
            title: {
              display: cfg.showY,
              text: "y [m]",
              color: "#000",
              font: { family: FONT, size: 22 },
              padding: { top: 10, bottom: 0 },
            },
          },
        },
      } as any,
    });
    return () => chart.destroy();
  }, [cfg]);
  return (
    <div style={{ position: "absolute", left: cfg.left, top: cfg.top, width: cfg.width, height: 262 }}>
      <canvas ref={ref} />
    </div>
  );
}

const SCRIPT_T = "\u{1D4AF}";
const SCRIPT_D = "\u{1D49F}";
const SCRIPT_S = "\u{1D4AE}";

function Caption({ i }: { i: number }) {
  const pos = CAPTION_POS[i];
  return (
    <div
      style={{
        position: "absolute",
        left: pos.cx - 160,
        top: pos.top,
        width: 320,
        textAlign: "center",
        fontFamily: "'Liberation Serif', 'Times New Roman', serif",
        fontSize: 17.5,
        lineHeight: "20.5px",
        color: "#000",
        transform: "scaleX(1.42)",
        transformOrigin: "center top",
        whiteSpace: "nowrap",
      }}
    >
      <div>
        {CAP_LETTERS[i]} {SCRIPT_T}=<i>{CAP_TRAJ[i]}</i>,
      </div>
      <div>
        {SCRIPT_D}=<i>{CAP_DIST[i]}</i>, {SCRIPT_S}=<i>{CAP_STIFF[i]}</i>.
      </div>
    </div>
  );
}

export default function App() {
  return (
    <div style={{ position: "absolute", left: 0, top: 0, width: 561, height: 637, background: "#fff" }}>
      {PANELS.map((p, i) => (
        <Panel key={i} cfg={p} />
      ))}
      {PANELS.map((_, i) => (
        <Caption key={"c" + i} i={i} />
      ))}
    </div>
  );
}
